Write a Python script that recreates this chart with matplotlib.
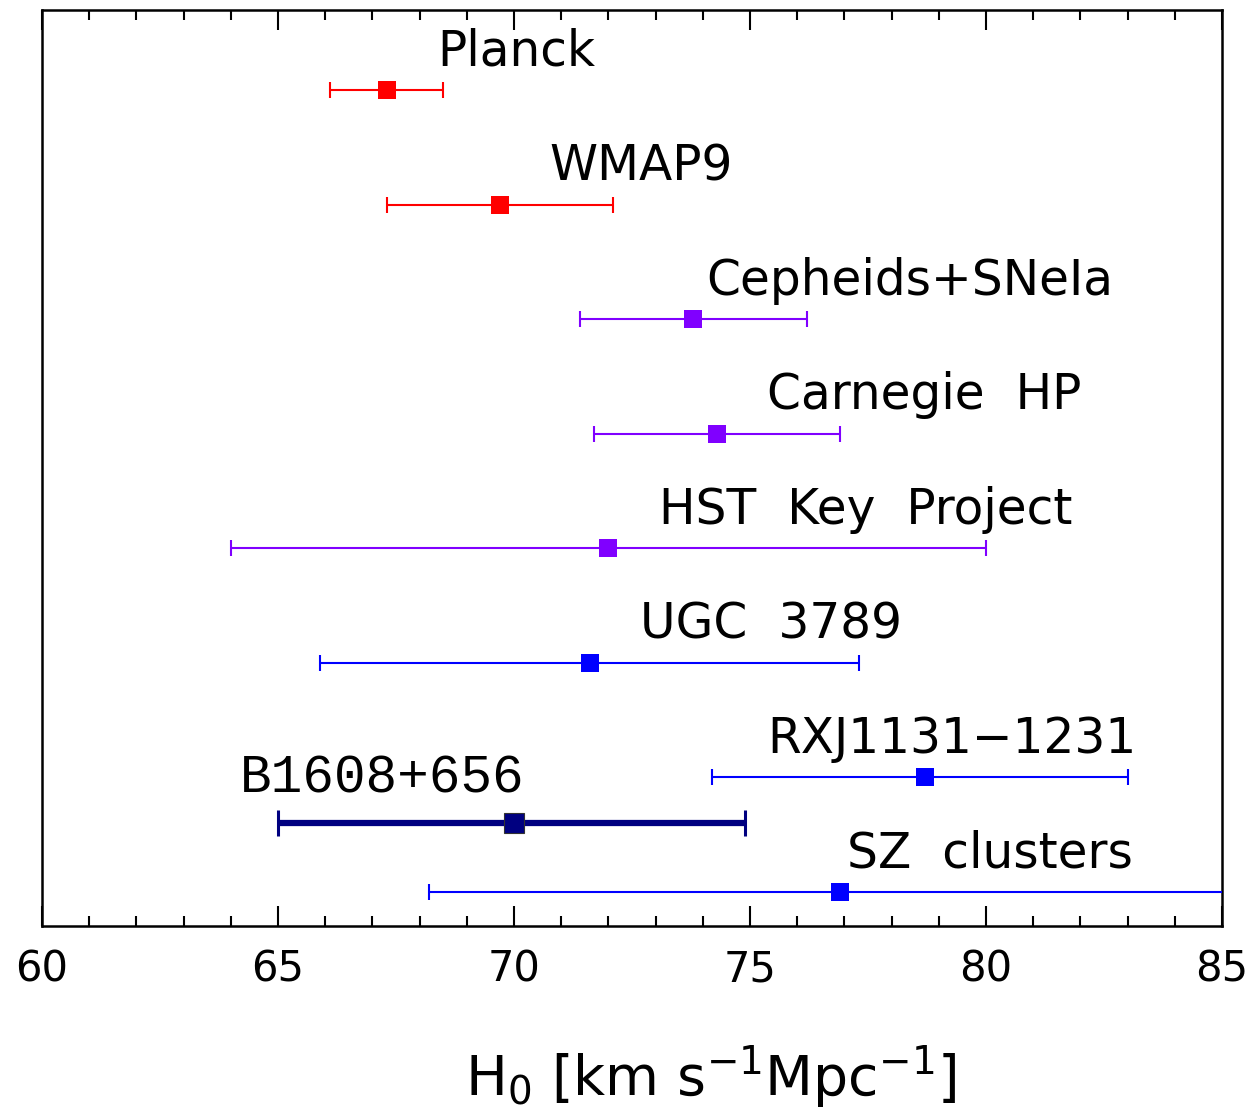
import matplotlib
matplotlib.use("Agg")
import matplotlib.pyplot as plt
from matplotlib.ticker import MultipleLocator

names = ["Planck", "WMAP9", "Cepheids+SNeIa", "Carnegie  HP", "HST  Key  Project",
         "UGC  3789", "RXJ1131\u22121231", "B1608+656", "SZ  clusters"]
h0 = [67.3, 69.7, 73.8, 74.3, 72.0, 71.6, 78.7, 70.0, 76.9]
err_lo = [1.2, 2.4, 2.4, 2.6, 8.0, 5.7, 4.5, 5.0, 8.7]
err_hi = [1.2, 2.4, 2.4, 2.6, 8.0, 5.7, 4.3, 4.9, 8.8]
rows = [7.3, 6.3, 5.3, 4.3, 3.3, 2.3, 1.3, 0.9, 0.3]
colors = ["#ff0000", "#ff0000", "#8000ff", "#8000ff", "#8000ff",
          "#0000ff", "#0000ff", "#000080", "#0000ff"]
label_x = [68.37, 70.74, 74.07, 75.36, 73.07, 72.67, 75.36, 64.19, 77.06]
label_dy = [0.335, 0.335, 0.335, 0.335, 0.335, 0.335, 0.335, 0.39, 0.335]

fig = plt.figure(figsize=(12.55, 11.16), dpi=100)
ax = fig.add_axes([42/1255, 1 - 926/1116, (1222-42)/1255, (926-10)/1116])

for i, n in enumerate(names):
    bold = (n == "B1608+656")
    ax.errorbar([h0[i]], [rows[i]], xerr=[[err_lo[i]], [err_hi[i]]],
                fmt="none", ecolor=colors[i],
                elinewidth=4.5 if bold else 1.5,
                capsize=9.5 if bold else 6,
                capthick=2.2 if bold else 1.5,
                zorder=3)
    ax.plot([h0[i]], [rows[i]], "s", color=colors[i],
            markersize=14.5 if bold else 13,
            markeredgecolor="#333333" if bold else colors[i],
            markeredgewidth=0.8 if bold else 0, zorder=4)
    if bold:
        ax.text(label_x[i], rows[i] + label_dy[i], n, fontsize=38,
                family=["Liberation Mono", "DejaVu Sans Mono"], va="center", ha="left")
    else:
        ax.text(label_x[i], rows[i] + label_dy[i], n, fontsize=35,
                family=["DejaVu Sans"], va="center", ha="left")

ax.set_xlim(60, 85)
ax.set_ylim(0, 8)
ax.xaxis.set_major_locator(MultipleLocator(5))
ax.xaxis.set_minor_locator(MultipleLocator(1))
ax.set_yticks([])
ax.tick_params(axis="x", which="both", direction="in", top=True, bottom=True,
               width=1.5, color="black")
ax.tick_params(axis="x", which="major", length=14.5, pad=16)
ax.tick_params(axis="x", which="minor", length=7.5)
for lab in ax.get_xticklabels():
    lab.set_fontsize(30)
for s in ax.spines.values():
    s.set_linewidth(1.8)

fig.text(711/1255, 1 - 1077/1116, r"H$_0$ [km s$^{-1}$Mpc$^{-1}$]", fontsize=40,
         ha="center", va="center")

fig.savefig("out.png", dpi=100)
